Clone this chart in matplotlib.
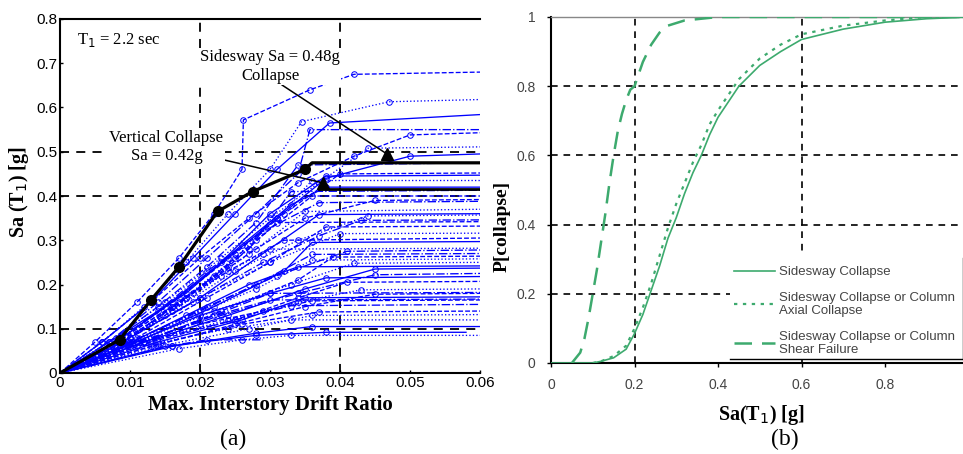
import numpy as np
import matplotlib
matplotlib.use('Agg')
import matplotlib.pyplot as plt
from matplotlib.patches import Rectangle
from matplotlib.lines import Line2D

# ---- panel (a): IDA curves, (drift, Sa) pairs ----
ida_drift = [
    [0, .005, .011, .017, .022, .026, .0262, .0357, .042, .06],
    [0, .006, .012, .018, .024, .030, .0345, .047, .06],
    [0, .006, .013, .019, .025, .031, .0385, .06],
    [0, .007, .014, .021, .028, .034, .0357, .06],
    [0, .006, .013, .020, .027, .034, .042, .050, .06],
    [0, .007, .015, .023, .030, .037, .044, .06],
    [0, .008, .016, .024, .031, .038, .050, .06],
    [0, .007, .014, .021, .028, .034, .06],
    [0, .008, .017, .025, .032, .040, .06],
    [0, .009, .017, .025, .031, .036, .06],
    [0, .008, .018, .026, .033, .038, .06],
    [0, .009, .018, .027, .033, .06],
    [0, .009, .018, .027, .035, .045, .06],
    [0, .010, .019, .028, .035, .06],
    [0, .010, .020, .029, .037, .06],
    [0, .009, .019, .029, .037, .043, .06],
    [0, .011, .021, .030, .038, .06],
    [0, .010, .020, .030, .040, .06],
    [0, .011, .022, .032, .036, .06],
    [0, .010, .021, .031, .041, .06],
    [0, .012, .023, .034, .039, .06],
    [0, .011, .022, .033, .042, .06],
    [0, .012, .024, .035, .045, .06],
    [0, .011, .023, .034, .045, .06],
    [0, .013, .025, .034, .041, .06],
    [0, .012, .024, .034, .043, .06],
    [0, .014, .026, .035, .06],
    [0, .012, .025, .033, .06],
    [0, .014, .026, .037, .06],
    [0, .013, .024, .033, .06],
    [0, .015, .028, .038, .058],
    [0, .016, .021, .029],
    [0, .007, .015, .022, .028, .036, .06],
    [0, .008, .016, .023, .030, .06],
    [0, .009, .018, .027, .034, .06],
    [0, .010, .020, .030, .06],
    [0, .008, .016, .024, .032, .06],
    [0, .009, .019, .028, .036, .06],
    [0, .010, .020, .030, .038, .06],
    [0, .012, .022, .030, .06],
    [0, .011, .020, .029, .036, .06],
    [0, .014, .027, .036, .06],
    [0, .016, .028, .036, .06],
    [0, .007, .014, .021, .029, .037, .06],
    [0, .008, .016, .024, .031, .06],
    [0, .009, .017, .025, .034, .044, .06],
    [0, .008, .015, .023, .030, .038, .06],
    [0, .010, .020, .028, .036, .06],
    [0, .013, .025, .035, .045, .06],
    [0, .017, .026, .033, .06],
]
ida_sa = [
    [0, .07, .16, .26, .36, .46, .572, .64, .675, .68],
    [0, .07, .15, .25, .36, .46, .568, .613, .618],
    [0, .07, .16, .26, .36, .46, .565, .584],
    [0, .07, .16, .26, .36, .45, .55, .55],
    [0, .07, .16, .26, .35, .43, .49, .538, .543],
    [0, .07, .16, .26, .35, .43, .508, .511],
    [0, .07, .16, .26, .35, .44, .49, .495],
    [0, .07, .15, .24, .34, .47, .475],
    [0, .07, .17, .27, .36, .45, .452],
    [0, .07, .16, .26, .35, .435, .435],
    [0, .08, .18, .29, .38, .42, .42],
    [0, .07, .17, .28, .41, .413],
    [0, .07, .17, .27, .35, .39, .392],
    [0, .08, .18, .28, .365, .37],
    [0, .08, .17, .27, .358, .36],
    [0, .07, .16, .25, .31, .345, .346],
    [0, .08, .17, .25, .33, .332],
    [0, .08, .17, .25, .315, .316],
    [0, .07, .15, .23, .295, .297],
    [0, .07, .15, .22, .275, .278],
    [0, .07, .14, .21, .262, .264],
    [0, .07, .14, .20, .248, .25],
    [0, .07, .13, .19, .235, .237],
    [0, .07, .13, .18, .222, .225],
    [0, .07, .12, .17, .205, .207],
    [0, .07, .12, .16, .188, .19],
    [0, .07, .12, .17, .172],
    [0, .07, .12, .152, .155],
    [0, .065, .11, .138, .14],
    [0, .065, .10, .12, .12],
    [0, .06, .085, .092, .092],
    [0, .062, .075, .075],
    [0, .06, .13, .22, .30, .40, .40],
    [0, .06, .14, .22, .28, .282],
    [0, .06, .13, .20, .24, .242],
    [0, .06, .12, .165, .167],
    [0, .07, .15, .23, .30, .305],
    [0, .06, .13, .19, .255, .258],
    [0, .065, .13, .18, .215, .218],
    [0, .07, .13, .18, .182],
    [0, .06, .11, .14, .163, .165],
    [0, .06, .10, .13, .132],
    [0, .06, .09, .105, .105],
    [0, .06, .14, .23, .32, .385, .388],
    [0, .07, .15, .24, .34, .342],
    [0, .07, .15, .23, .30, .355, .357],
    [0, .07, .15, .25, .36, .445, .447],
    [0, .07, .14, .20, .268, .27],
    [0, .06, .11, .15, .178, .18],
    [0, .055, .075, .085, .085],
]

median_drift = [0, .0085, .013, .017, .0225, .0275, .035, .036, .06]
median_sa = [0, .075, .165, .24, .365, .41, .46, .475, .475]
vert_drift = [.037, .06]
vert_sa = [.415, .415]
collapse_drift = [.0375, .0467]
collapse_sa = [.43, .495]

# ---- panel (b): fragility curves ----
side_sa = [0, .10, .12, .15, .18, .20, .22, .24, .26, .28, .30, .32, .34, .36,
           .38, .40, .45, .50, .55, .60, .70, .80, .90, 1.0]
side_p = [0, 0, .005, .015, .04, .085, .14, .21, .28, .36, .42, .49, .55, .60,
          .66, .71, .80, .86, .90, .935, .965, .985, .995, 1.0]
axial_sa = [.10, .12, .15, .18, .20, .22, .24, .26, .28, .30, .32, .34, .36,
            .38, .40, .45, .50, .55, .60, .70, .80, .90, 1.0]
axial_p = [0, .005, .02, .05, .10, .16, .23, .31, .39, .46, .52, .58, .63,
           .69, .73, .82, .88, .92, .95, .975, .99, 1.0, 1.0]
shear_sa = [.05, .07, .08, .09, .10, .11, .12, .13, .14, .15, .16, .17, .18,
            .19, .20, .22, .24, .26, .28, .32, .40, 1.0]
shear_p = [0, .03, .07, .13, .20, .27, .35, .43, .52, .60, .67, .72, .76,
           .79, .80, .87, .92, .955, .975, .99, 1.0, 1.0]

serif = 'Liberation Serif'
sans = 'Liberation Sans'
green = '#3daa6e'
label_box = dict(facecolor='white', edgecolor='none', pad=1.0)

fig = plt.figure(figsize=(9.63, 4.54), dpi=100)

# ---------------- (a) ----------------
ax1 = fig.add_axes([60 / 963, 81 / 454, 420 / 963, 354 / 454])
for xg in [0.02, 0.04]:
    ax1.axvline(xg, color='k', lw=1.3, ls=(0, (5, 4)), zorder=1)
for yg in [0.1, 0.4, 0.5]:
    ax1.axhline(yg, color='k', lw=1.3, ls=(0, (5, 4)), zorder=1)

styles = ['--', ':', '-', '-.']
for i, (d, s) in enumerate(zip(ida_drift, ida_sa)):
    ax1.plot(d, s, color='#0000ff', lw=0.95, ls=styles[i % 4], marker='o',
             ms=4, mfc='none', mew=0.7, markevery=list(range(1, len(d) - 1)),
             zorder=2)

ax1.plot(median_drift, median_sa, color='k', lw=2.3, marker='o', ms=7,
         markevery=list(range(1, 7)), zorder=4)
ax1.plot(vert_drift, vert_sa, color='k', lw=2.0, zorder=4)
ax1.plot(collapse_drift, collapse_sa, 'k^', ms=9, ls='none', zorder=5)

ax1.annotate('Sidesway Sa = 0.48g\nCollapse', xy=(collapse_drift[1], collapse_sa[1]),
             xytext=(0.030, 0.693), ha='center', va='center', multialignment='center',
             fontsize=12, family=serif, linespacing=1.2, bbox=label_box,
             arrowprops=dict(arrowstyle='-', color='k', lw=1.1,
                             shrinkA=0, shrinkB=0, relpos=(0.57, 0.0)), zorder=6)
ax1.annotate('Vertical Collapse\nSa = 0.42g', xy=(collapse_drift[0], collapse_sa[0]),
             xytext=(0.0152, 0.511), ha='center', va='center', multialignment='center',
             fontsize=12, family=serif, linespacing=1.2, bbox=label_box,
             arrowprops=dict(arrowstyle='-', color='k', lw=1.1, patchA=None,
                             shrinkA=0, shrinkB=0, relpos=(0.85, 0.24)), zorder=6)
ax1.text(0.0024, 0.753, 'T$_1$ = 2.2 sec', fontsize=12, family=serif, va='center')

ax1.set_xlim(0, 0.06)
ax1.set_ylim(0, 0.8)
ax1.set_xticks([0, 0.01, 0.02, 0.03, 0.04, 0.05, 0.06])
ax1.set_xticklabels(['0', '0.01', '0.02', '0.03', '0.04', '0.05', '0.06'])
ax1.set_yticks(np.arange(0, 0.81, 0.1))
ax1.set_yticklabels(['0', '0.1', '0.2', '0.3', '0.4', '0.5', '0.6', '0.7', '0.8'])
ax1.tick_params(direction='in', length=2, width=1, labelsize=11, pad=2)
for lab in ax1.get_xticklabels() + ax1.get_yticklabels():
    lab.set_family(sans)
for sp in ['left', 'bottom', 'top']:
    ax1.spines[sp].set_linewidth(1.5)
ax1.spines['right'].set_visible(False)
ax1.set_xlabel('Max. Interstory Drift Ratio', fontsize=15, family=serif,
               fontweight='bold', labelpad=4)
ax1.set_ylabel('Sa (T$_1$) [g]', fontsize=14.5, family=serif, fontweight='bold')
ax1.yaxis.set_label_coords(-0.068, 0.51)
fig.text(233 / 963, 1 - 439 / 454, '(a)', fontsize=17, family=serif,
         ha='center', va='center')

# ---------------- (b) ----------------
ax2 = fig.add_axes([551 / 963, 91 / 454, 417.5 / 963, 346 / 454])
for xg in [0.2, 0.6]:
    ax2.axvline(xg, color='k', lw=1.2, ls=(0, (4, 3.5)), zorder=1)
for yg in [0.2, 0.4, 0.6, 0.8]:
    ax2.axhline(yg, color='k', lw=1.2, ls=(0, (4, 3.5)), zorder=1)
ax2.add_patch(Rectangle((0.429, 0.0116), 0.571, 0.309, transform=ax2.transAxes,
                        facecolor='white', edgecolor='none', zorder=2))
ax2.add_line(Line2D([0.429, 0.987], [0.0116, 0.0116], transform=ax2.transAxes,
                    color='k', lw=1.0, zorder=3))
ax2.add_line(Line2D([0.986, 0.986], [0.0116, 0.303], transform=ax2.transAxes,
                    color='k', lw=1.0, zorder=3))

ax2.plot(side_sa, side_p, color=green, lw=1.2, zorder=4,
         label='Sidesway Collapse')
ax2.plot(axial_sa, axial_p, color=green, lw=1.6, ls=(0, (1.5, 2.5)), zorder=4,
         label='Sidesway Collapse or Column\nAxial Collapse')
ax2.plot(shear_sa, shear_p, color=green, lw=1.8, ls=(0, (7, 4)), zorder=4,
         label='Sidesway Collapse or Column\nShear Failure')
leg = ax2.legend(loc='lower left', bbox_to_anchor=(0.41, -0.015), frameon=False,
                 handlelength=3.1, handletextpad=0.3, labelspacing=1.0,
                 prop={'family': sans, 'size': 9.5})
leg.set_zorder(5)
for t in leg.get_texts():
    t.set_color('#444444')

ax2.set_xlim(0, 1)
ax2.set_ylim(0, 1)
ax2.set_xticks([0, 0.2, 0.4, 0.6, 0.8])
ax2.set_xticklabels(['0', '0.2', '0.4', '0.6', '0.8'])
ax2.set_yticks([0, 0.2, 0.4, 0.6, 0.8, 1.0])
ax2.set_yticklabels(['0', '0.2', '0.4', '0.6', '0.8', '1'])
ax2.tick_params(direction='out', length=3, width=1, labelsize=10, pad=8,
                labelcolor='#444444')
for lab in ax2.get_xticklabels() + ax2.get_yticklabels():
    lab.set_family(sans)
ax2.spines['left'].set_linewidth(1.5)
ax2.spines['bottom'].set_linewidth(1.5)
ax2.spines['top'].set_color('#888888')
ax2.spines['top'].set_linewidth(1.0)
ax2.spines['right'].set_visible(False)
ax2.set_xlabel('Sa(T$_1$) [g]', fontsize=14.5, family=serif, fontweight='bold')
ax2.xaxis.set_label_coords(0.503, -0.116)
ax2.set_ylabel('P[collapse]', fontsize=14, family=serif, fontweight='bold')
ax2.yaxis.set_label_coords(-0.096, 0.396)
fig.text(785 / 963, 1 - 439 / 454, '(b)', fontsize=17, family=serif,
         ha='center', va='center')

fig.savefig('out.png', dpi=100)
